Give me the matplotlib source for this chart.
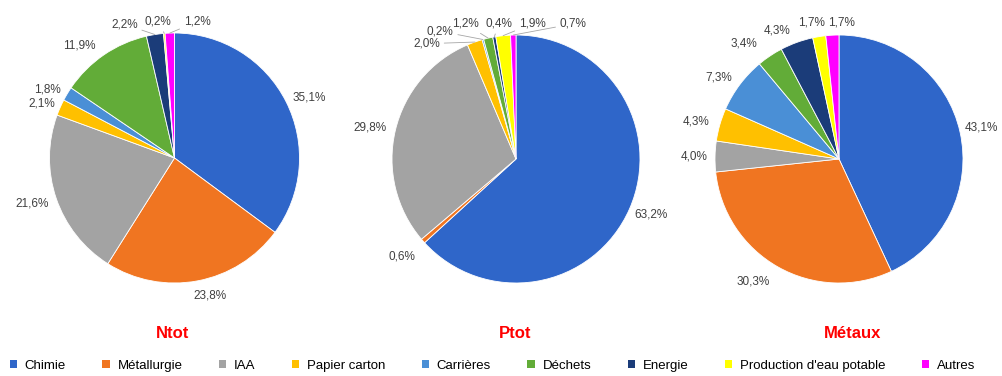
import numpy as np
import matplotlib
matplotlib.use('Agg')
import matplotlib.pyplot as plt
from matplotlib.patches import Patch

plt.rcParams['font.family'] = ['Liberation Sans', 'DejaVu Sans']

# secteurs d'activité (même ordre dans les trois camemberts)
secteurs = ["Chimie", "Métallurgie", "IAA", "Papier carton", "Carrières",
            "Déchets", "Energie", "Production d'eau potable", "Autres"]
couleurs = ["#2F66C9", "#F07521", "#A3A3A3", "#FFC000", "#4A8FD6",
            "#62AC38", "#1B3C79", "#FFFF00", "#FF00FF"]

titres = ["Ntot", "Ptot", "Métaux"]
ntot = [35.1, 23.8, 21.6, 2.1, 1.8, 11.9, 2.2, 0.2, 1.2]
ptot = [63.2, 0.6, 29.8, 2.0, 0.2, 1.2, 0.4, 1.9, 0.7]
metaux = [43.1, 30.3, 4.0, 4.3, 7.3, 3.4, 4.3, 1.7, 1.7]
parts = [ntot, ptot, metaux]

# emplacement des étiquettes (unités du rayon) et lignes de rappel
pos_etiq = [
    [(1.08, 0.48), (0.28, -1.10), (-1.14, -0.36), (-1.06, 0.44), (-1.02, 0.55),
     (-0.76, 0.90), (-0.40, 1.07), (-0.13, 1.09), (0.18, 1.09)],
    [(1.09, -0.45), (-0.92, -0.79), (-1.18, 0.25), (-0.72, 0.93), (-0.61, 1.03),
     (-0.41, 1.09), (-0.14, 1.09), (0.13, 1.09), (0.46, 1.09)],
    [(1.15, 0.25), (-0.69, -0.99), (-1.17, 0.02), (-1.15, 0.30), (-0.97, 0.66),
     (-0.77, 0.93), (-0.50, 1.04), (-0.22, 1.10), (0.02, 1.10)],
]
rappel = [[6, 7, 8], [3, 4, 5, 6, 7, 8], []]

# centre (px) et rayon (px) de chaque camembert
centres = [(174.5, 158), (516, 159), (839, 159)]
rayons = [125, 124, 124]
titre_x = [173, 515, 853]

W, H = 1002, 376
fig = plt.figure(figsize=(W / 100, H / 100), dpi=100)
lim = 1.4

for k in range(3):
    cx, cy = centres[k]
    r = rayons[k]
    demi = r * lim
    ax = fig.add_axes([(cx - demi) / W, (H - cy - demi) / H, 2 * demi / W, 2 * demi / H])
    wedges, _ = ax.pie(parts[k], colors=couleurs, startangle=90, counterclock=False,
                       wedgeprops=dict(edgecolor='white', linewidth=0.6))
    ax.set_xlim(-lim, lim)
    ax.set_ylim(-lim, lim)
    ax.set_aspect('equal')
    ax.axis('off')

    for i, (w, v) in enumerate(zip(wedges, parts[k])):
        txt = f"{v:.1f}%".replace('.', ',')
        tx, ty = pos_etiq[k][i]
        if i in rappel[k]:
            a = np.deg2rad((w.theta1 + w.theta2) / 2)
            ax.annotate(txt, xy=(np.cos(a), np.sin(a)), xytext=(tx, ty),
                        ha='center', va='center', fontsize=8.5, color='#404040',
                        arrowprops=dict(arrowstyle='-', color='#A6A6A6', lw=0.6,
                                        shrinkA=1, shrinkB=0))
        else:
            ax.text(tx, ty, txt, ha='center', va='center', fontsize=8.5, color='#404040')

    fig.text(titre_x[k] / W, 1 - 333 / H, titres[k], ha='center', va='center',
             fontsize=12, fontweight='bold', color='#FF0000')

handles = [Patch(facecolor=c, edgecolor='none') for c in couleurs]
fig.legend(handles, secteurs, loc='center', bbox_to_anchor=(0.4915, 1 - 366 / H),
           ncol=9, frameon=False, fontsize=9.5, handlelength=0.55, handleheight=0.55,
           handletextpad=0.6, columnspacing=2.75)

fig.savefig('out.png', dpi=100)
